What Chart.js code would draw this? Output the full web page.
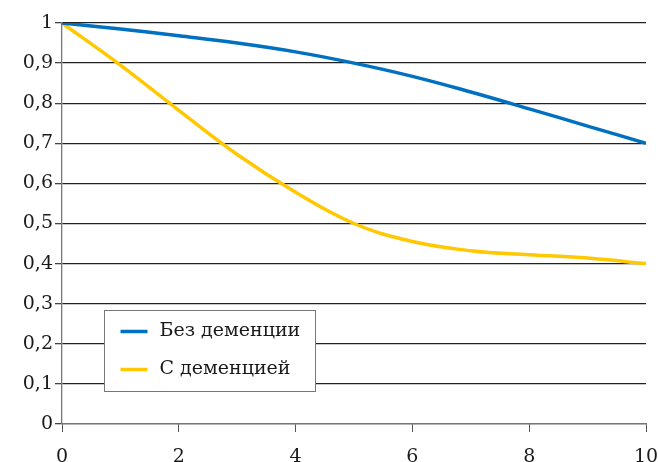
<!DOCTYPE html>
<html>
<head>
<meta charset="utf-8">
<script src="https://cdn.jsdelivr.net/npm/chart.js@4/dist/chart.umd.min.js"></script>
<style>
  html, body { margin: 0; padding: 0; background: #fff; }
  #wrap { width: 658px; height: 462px; }
</style>
</head>
<body>
<div id="wrap"><canvas id="c" width="658" height="462"></canvas></div>
<script>
// data
const years = [0, 1, 2, 3, 4, 5, 6, 7, 8, 9, 10];
const noDementia = [1, 0.985, 0.968, 0.95, 0.928, 0.9, 0.867, 0.828, 0.786, 0.743, 0.7];
const withDementia = [1, 0.895, 0.782, 0.672, 0.578, 0.5, 0.455, 0.432, 0.422, 0.414, 0.4];
const seriesNames = ['Без деменции', 'С деменцией'];
const seriesColors = ['#0070C0', '#FFC800'];

Chart.defaults.font.family = 'DejaVu Serif';
Chart.defaults.font.size = 19;
Chart.defaults.color = '#1a1a1a';

const toPoints = (ys) => years.map((x, i) => ({ x: x, y: ys[i] }));

// legend box drawn inside the plot area, like the original
const boxLegend = {
  id: 'boxLegend',
  afterDraw(chart) {
    const ctx = chart.ctx;
    const x0 = 104.5, y0 = 310.5, w = 211, h = 81;
    ctx.save();
    ctx.fillStyle = '#fff';
    ctx.fillRect(x0, y0, w, h);
    ctx.strokeStyle = '#777';
    ctx.lineWidth = 1;
    ctx.strokeRect(x0, y0, w, h);
    ctx.font = '19px "DejaVu Serif"';
    ctx.textBaseline = 'middle';
    chart.data.datasets.forEach((ds, i) => {
      const yy = y0 + 21 + i * 38;
      ctx.strokeStyle = ds.borderColor;
      ctx.lineWidth = 3.5;
      ctx.beginPath();
      ctx.moveTo(x0 + 16, yy);
      ctx.lineTo(x0 + 43, yy);
      ctx.stroke();
      ctx.fillStyle = '#1a1a1a';
      ctx.fillText(ds.label, x0 + 55, yy);
    });
    ctx.restore();
  }
};

new Chart(document.getElementById('c'), {
  type: 'line',
  data: {
    datasets: [
      { label: seriesNames[0], data: toPoints(noDementia), borderColor: seriesColors[0] },
      { label: seriesNames[1], data: toPoints(withDementia), borderColor: seriesColors[1] }
    ]
  },
  options: {
    responsive: false,
    animation: false,
    layout: { padding: { top: 23, right: 12, left: 0, bottom: 0 } },
    elements: {
      line: { borderWidth: 3.5, tension: 0.4 },
      point: { radius: 0 }
    },
    plugins: {
      legend: { display: false },
      tooltip: { enabled: false }
    },
    scales: {
      x: {
        type: 'linear',
        min: 0,
        max: 10,
        afterFit(scale) {
          scale.height = 38;
          // let the "10" label hang past the plot edge, as in the original
          scale.paddingRight = 0;
          scale.paddingLeft = 0;
        },
        ticks: { stepSize: 2, padding: 14, maxRotation: 0 },
        grid: { drawOnChartArea: false, tickLength: 8, tickColor: '#555', color: '#555' },
        border: { color: '#777', width: 1.3 }
      },
      y: {
        min: 0,
        max: 1,
        afterFit(scale) { scale.width = 62; },
        ticks: {
          stepSize: 0.1,
          padding: 2,
          callback: (v) => String(Math.round(v * 10) / 10).replace('.', ',')
        },
        grid: { color: '#222', lineWidth: 1.3, tickLength: 7, tickColor: '#444' },
        border: { color: '#777', width: 1.3 }
      }
    }
  },
  plugins: [boxLegend]
});
</script>
</body>
</html>
